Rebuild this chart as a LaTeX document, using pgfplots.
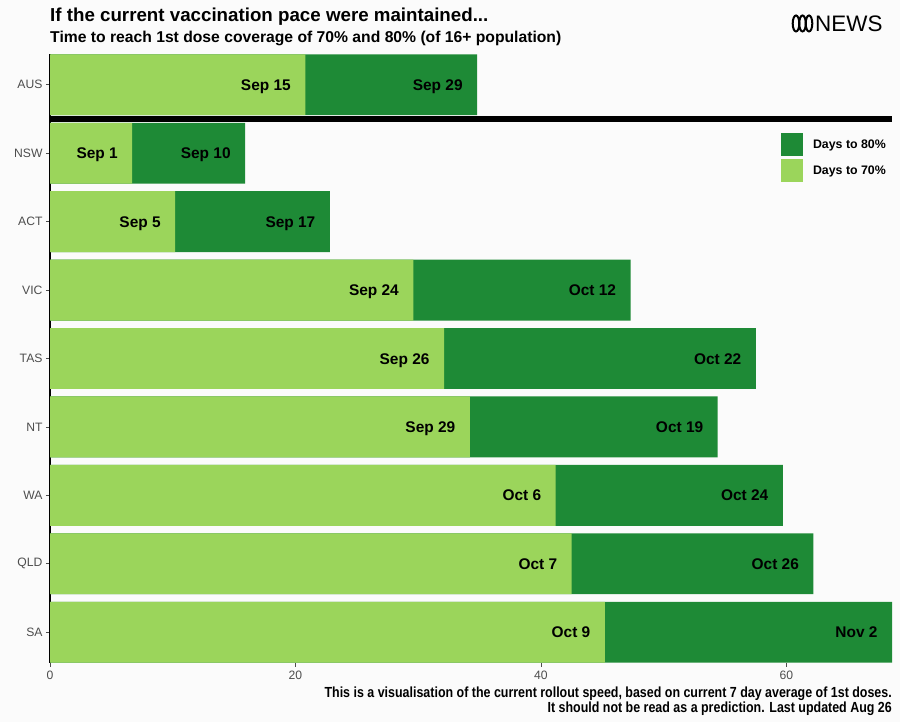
\documentclass[border=0pt]{standalone}
\usepackage{fontspec}
\setmainfont{Liberation Sans}
\newfontfamily\narrowfont{Liberation Sans}[FakeStretch=0.85]
\usepackage{pgfplots}
\pgfplotsset{compat=1.18}
\usepackage{pgfplotstable}
\definecolor{lightg}{HTML}{9BD55B}
\definecolor{darkg}{HTML}{1E8A36}
\definecolor{bg}{HTML}{FBFBFB}
\definecolor{grey30}{HTML}{4D4D4D}

\pgfplotstableread[col sep=comma]{
idx,d70,d80,l70,l80
0,20.8,34.8,Sep 15,Sep 29
1,6.7,15.9,Sep 1,Sep 10
2,10.2,22.8,Sep 5,Sep 17
3,29.6,47.3,Sep 24,Oct 12
4,32.1,57.5,Sep 26,Oct 22
5,34.2,54.4,Sep 29,Oct 19
6,41.2,59.7,Oct 6,Oct 24
7,42.5,62.2,Oct 7,Oct 26
8,45.2,68.6,Oct 9,Nov 2
}\datatable

\begin{document}
\begin{tikzpicture}
\fill[bg] (0bp,0bp) rectangle (900bp,722bp);
\begin{axis}[
  at={(50bp,59bp)}, anchor=south west,
  scale only axis, width=842bp, height=609bp,
  xbar, bar shift=0pt, bar width=60.9bp,
  ymin=-0.45, ymax=8.45, xmin=0, xmax=68.6,
  ytick={0,...,8},
  yticklabels={SA,QLD,WA,NT,TAS,VIC,ACT,NSW,AUS},
  xtick={0,20,40,60},
  axis x line*=bottom, axis y line*=left,
  x axis line style={draw=none},
  y axis line style={black, line width=1.1bp},
  tick align=outside, major tick length=4bp,
  tick style={grey30, line width=0.8bp},
  ticklabel style={font=\fontsize{12.2}{14}\selectfont, text=grey30},
  /pgf/number format/assume math mode=true,
  nodes near coords, point meta=explicit symbolic,
  every node near coord/.append style={anchor=base east, xshift=-11bp, yshift=-5.6bp, font=\bfseries\fontsize{15.5}{17}\selectfont, text=black},
  legend style={at={(rel axis cs:0.868,0.87)}, anchor=north west, draw=none, fill=none, inner sep=0pt, row sep=3bp,
    font=\bfseries\fontsize{12.4}{14}\selectfont, legend cell align=left,
    /tikz/every odd column/.append style={column sep=8bp}},
  clip=false,
]
\addplot[fill=darkg, draw=none, legend image code/.code={\fill[darkg] (0bp,-11.5bp) rectangle (22bp,11.5bp);}]
  table[x=d80, y expr=8-\thisrow{idx}, meta=l80] {\datatable};
\addlegendentry{Days to 80\%}
\addplot[fill=lightg, draw=none, legend image code/.code={\fill[lightg] (0bp,-11.5bp) rectangle (22bp,11.5bp);}]
  table[x=d70, y expr=8-\thisrow{idx}, meta=l70] {\datatable};
\addlegendentry{Days to 70\%}
\draw[black, line width=6bp] (axis cs:0,7.5) -- (axis cs:68.6,7.5);
\end{axis}
% titles
\node[anchor=base west, inner sep=0pt] at (50bp,700bp) {\bfseries\fontsize{18.8}{20}\selectfont If the current vaccination pace were maintained...};
\node[anchor=base west, inner sep=0pt] at (50bp,679bp) {\bfseries\fontsize{15.75}{17}\selectfont Time to reach 1st dose coverage of 70\% and 80\% (of 16+ population)};
% logo
\foreach \cx in {796,802.5,809} {\draw[black, line width=2bp] (\cx bp,698.5bp) ellipse [x radius=3.3bp, y radius=8bp];}
\node[anchor=base west, inner sep=0pt] at (815bp,690bp) {\fontsize{22.5}{24}\selectfont NEWS};
% footer
\node[anchor=base east, inner sep=0pt] at (892bp,25bp) {\narrowfont\bfseries\fontsize{14.7}{16}\selectfont This is a visualisation of the current rollout speed, based on current 7 day average of 1st doses.};
\node[anchor=base east, inner sep=0pt] at (892bp,10bp) {\narrowfont\bfseries\fontsize{14.7}{16}\selectfont It should not be read as a prediction. Last updated Aug 26};
\end{tikzpicture}
\end{document}
